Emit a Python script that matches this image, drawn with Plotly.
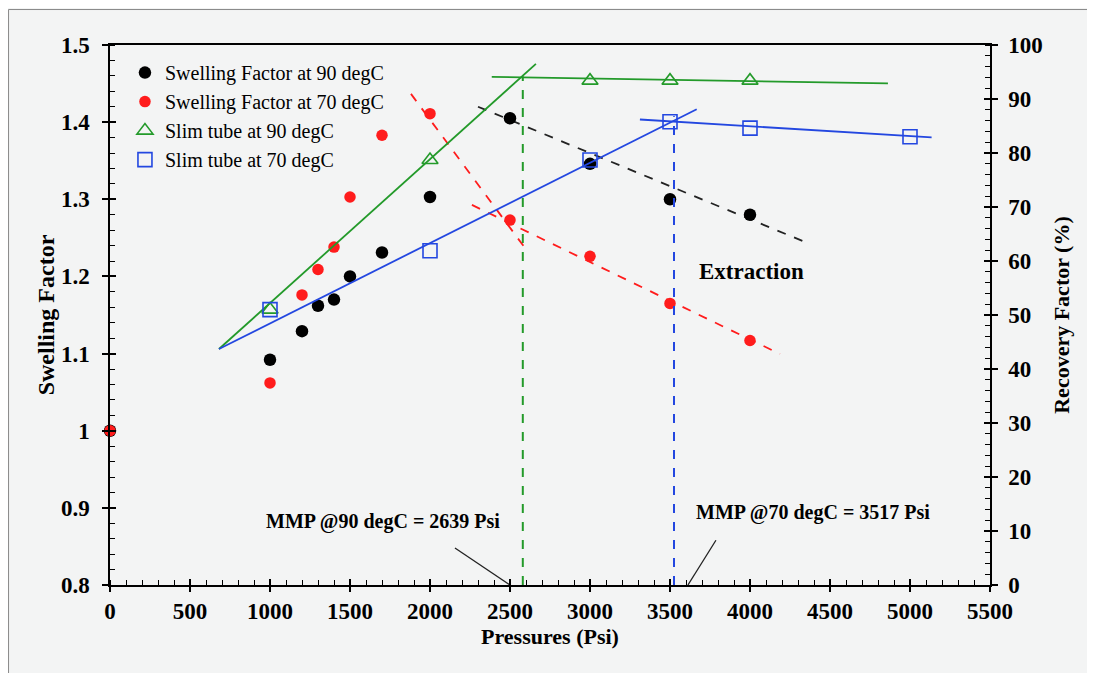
import plotly.graph_objects as go

# ---------------- data ----------------
p_sf90 = [0, 1000, 1200, 1300, 1400, 1500, 1700, 2000, 2500, 3000, 3500, 4000]
sf90 = [1.0, 1.092, 1.129, 1.162, 1.170, 1.200, 1.231, 1.303, 1.405, 1.346, 1.300, 1.280]

p_sf70 = [0, 1000, 1200, 1300, 1400, 1500, 1700, 2000, 2500, 3000, 3500, 4000]
sf70 = [1.0, 1.062, 1.176, 1.209, 1.238, 1.303, 1.383, 1.411, 1.273, 1.226, 1.165, 1.117]

p_st90 = [1000, 2000, 3000, 3500, 4000]
rf_st90 = [51.0, 78.7, 93.4, 93.4, 93.4]

p_st70 = [1000, 2000, 3000, 3500, 4000, 5000]
rf_st70 = [51.0, 61.9, 78.7, 85.8, 84.6, 83.0]

# trend lines (endpoints)
green_rise_x, green_rise_y = [681, 2662], [43.7, 96.5]
green_flat_x, green_flat_y = [2386, 4862], [94.1, 92.9]
blue_rise_x, blue_rise_y = [681, 3667], [43.7, 88.1]
blue_flat_x, blue_flat_y = [3312, 5135], [86.2, 82.9]
black_dash_x, black_dash_y = [2300, 4375], [1.420, 1.242]
red_dash1_x, red_dash1_y = [1881, 2604], [1.4366, 1.234]
red_dash2_x, red_dash2_y = [2262, 4187], [1.2927, 1.0995]
mmp90_x, mmp90_y = [2580, 2580], [0, 94.2]
mmp70_x, mmp70_y = [3525, 3525], [0, 86.8]
lead90_x, lead90_y = [2156, 2500], [0.848, 0.8]
lead70_x, lead70_y = [3787, 3612], [0.858, 0.8]

x_ticks = [0, 500, 1000, 1500, 2000, 2500, 3000, 3500, 4000, 4500, 5000, 5500]
y_ticks = [0.8, 0.9, 1.0, 1.1, 1.2, 1.3, 1.4, 1.5]
y_tick_text = ["0.8", "0.9", "1", "1.1", "1.2", "1.3", "1.4", "1.5"]
y2_ticks = [0, 10, 20, 30, 40, 50, 60, 70, 80, 90, 100]

# ---------------- style ----------------
FONT = "Liberation Serif"
GREEN = "#239a2a"
BLUE = "#2347e0"
RED = "#ff1c1c"
BLACK = "#000000"

fig = go.Figure()

def line(x, y, color, dash="solid", width=1.8, yaxis="y"):
    fig.add_trace(go.Scatter(x=x, y=y, mode="lines", yaxis=yaxis,
                             line=dict(color=color, dash=dash, width=width),
                             showlegend=False, hoverinfo="skip"))

line(green_rise_x, green_rise_y, GREEN, yaxis="y2")
line(green_flat_x, green_flat_y, GREEN, yaxis="y2")
line(blue_rise_x, blue_rise_y, BLUE, yaxis="y2")
line(blue_flat_x, blue_flat_y, BLUE, yaxis="y2")
line(black_dash_x, black_dash_y, "#222222", dash="dash", width=1.8)
line(red_dash1_x, red_dash1_y, RED, dash="dash", width=1.8)
line(red_dash2_x, red_dash2_y, RED, dash="dash", width=1.8)
line(mmp90_x, mmp90_y, GREEN, dash="dash", width=2, yaxis="y2")
line(mmp70_x, mmp70_y, BLUE, dash="dash", width=2, yaxis="y2")
line(lead90_x, lead90_y, "#222222", width=1.3)
line(lead70_x, lead70_y, "#222222", width=1.3)

fig.add_trace(go.Scatter(x=p_sf90, y=sf90, mode="markers", name="Swelling Factor at 90 degC",
                         marker=dict(color=BLACK, size=12.5, symbol="circle"), cliponaxis=False))
fig.add_trace(go.Scatter(x=p_sf70, y=sf70, mode="markers", name="Swelling Factor at 70 degC",
                         marker=dict(color=RED, size=11.5, symbol="circle"), cliponaxis=False))
fig.add_trace(go.Scatter(x=p_st90, y=rf_st90, mode="markers", name="Slim tube at 90 degC", yaxis="y2",
                         marker=dict(color="rgba(0,0,0,0)", size=14, symbol="triangle-up",
                                     line=dict(color=GREEN, width=1.6)), cliponaxis=False))
fig.add_trace(go.Scatter(x=p_st70, y=rf_st70, mode="markers", name="Slim tube at 70 degC", yaxis="y2",
                         marker=dict(color="rgba(0,0,0,0)", size=14, symbol="square",
                                     line=dict(color=BLUE, width=1.6)), cliponaxis=False))

# dummy traces so the inner-tick overlay axes get drawn
fig.add_trace(go.Scatter(x=[None], y=[None], xaxis="x3", yaxis="y3", showlegend=False, hoverinfo="skip"))
fig.add_trace(go.Scatter(x=[None], y=[None], xaxis="x3", yaxis="y4", showlegend=False, hoverinfo="skip"))

tickfont = dict(family=FONT, size=23, color="black", weight="bold")
titlefont = dict(family=FONT, size=22, color="black", weight="bold")

fig.update_layout(
    width=1087, height=665,
    margin=dict(l=102, r=105, t=37, b=88),
    paper_bgcolor="#f3f4f4",
    plot_bgcolor="rgba(0,0,0,0)",
    font=dict(family=FONT, color="black"),
    xaxis=dict(range=[0, 5500], tickvals=x_ticks, ticks="outside", ticklen=5, tickwidth=1.5,
               tickcolor="black", showline=True, linecolor="black", linewidth=1.5, mirror=True,
               showgrid=False, zeroline=False, tickfont=tickfont,
               minor=dict(dtick=100, ticks="inside", ticklen=5, tickwidth=1.2, tickcolor="black"),
               title=dict(text="Pressures (Psi)", font=titlefont, standoff=4)),
    yaxis=dict(range=[0.8, 1.5], tickvals=y_ticks, ticktext=y_tick_text, ticks="outside", ticklen=6,
               tickwidth=1.5, tickcolor="black", showline=True, linecolor="black", linewidth=1.5,
               showgrid=False, zeroline=False, tickfont=tickfont, ticklabelstandoff=8,
               minor=dict(dtick=0.02, ticks="inside", ticklen=5, tickwidth=1.2, tickcolor="black"),
               title=dict(text="Swelling Factor", font=dict(family=FONT, size=24, color="black", weight="bold"),
                          standoff=0)),
    yaxis2=dict(range=[0, 100], tickvals=y2_ticks, ticks="outside", ticklen=6, tickwidth=1.5,
                tickcolor="black", overlaying="y", side="right", showline=True, linecolor="black",
                linewidth=1.5, showgrid=False, zeroline=False, tickfont=tickfont, ticklabelstandoff=6,
                minor=dict(dtick=2, ticks="inside", ticklen=5, tickwidth=1.2, tickcolor="black"),
                title=dict(text="Recovery Factor (%)", font=dict(family=FONT, size=22, color="black", weight="bold"),
                           standoff=12)),
    xaxis3=dict(range=[0, 5500], tickvals=x_ticks, ticks="inside", ticklen=6, tickwidth=1.5,
                tickcolor="black", overlaying="x", anchor="y", showticklabels=False,
                showline=False, showgrid=False, zeroline=False),
    yaxis3=dict(range=[0.8, 1.5], tickvals=y_ticks, ticks="inside", ticklen=6, tickwidth=1.5,
                tickcolor="black", overlaying="y", anchor="x", side="left", showticklabels=False,
                showline=False, showgrid=False, zeroline=False),
    yaxis4=dict(range=[0, 100], tickvals=y2_ticks, ticks="inside", ticklen=6, tickwidth=1.5,
                tickcolor="black", overlaying="y", anchor="x", side="right", showticklabels=False,
                showline=False, showgrid=False, zeroline=False),
    legend=dict(x=0.017, y=0.985, xanchor="left", yanchor="top", bgcolor="rgba(0,0,0,0)",
                font=dict(family=FONT, size=20, color="black"), tracegroupgap=0, itemwidth=30),
    showlegend=True,
)

# outer frame of the picture (left and top edges visible)
fig.add_shape(type="rect", xref="paper", yref="paper", x0=-0.1153, x1=1.25, y0=-0.3, y1=1.0657,
              fillcolor="rgba(0,0,0,0)", line=dict(color="#8a8a8a", width=1), layer="below")

fig.add_annotation(x=1706, y=0.882, xref="x", yref="y", text="<b>MMP @90 degC = 2639 Psi</b>",
                   showarrow=False, font=dict(family=FONT, size=20, color="black"))
fig.add_annotation(x=4394, y=0.8945, xref="x", yref="y", text="<b>MMP @70 degC = 3517 Psi</b>",
                   showarrow=False, font=dict(family=FONT, size=20, color="black"))
fig.add_annotation(x=4012, y=1.207, xref="x", yref="y", text="<b>Extraction</b>",
                   showarrow=False, font=dict(family=FONT, size=23, color="black"))

fig.write_html("out.html")
